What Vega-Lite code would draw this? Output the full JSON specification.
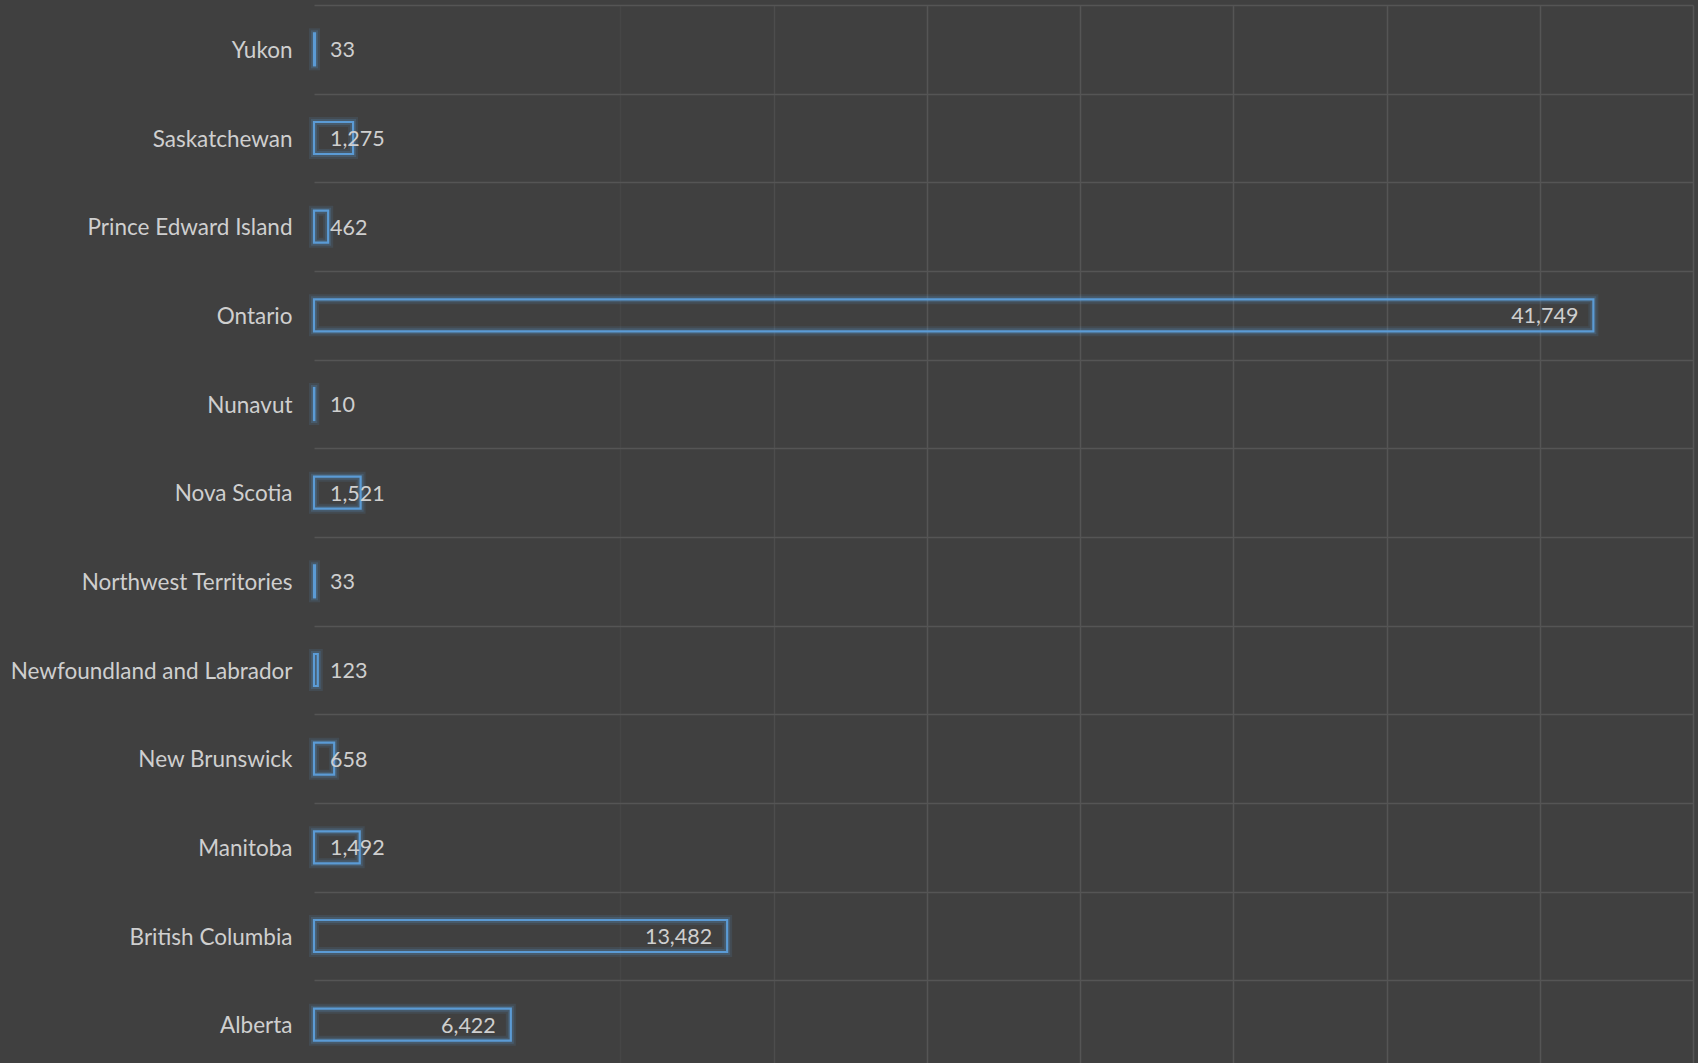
{
  "$schema": "https://vega.github.io/schema/vega-lite/v6.json",
  "autosize": {"type": "none"},
  "padding": {"left": 314, "top": 5, "right": 5, "bottom": 0},
  "width": 1379,
  "height": 1064,
  "background": "#404040",
  "config": {
    "view": {"stroke": null},
    "font": "Lato"
  },
  "data": {
    "values": [
      {"province": "Yukon", "value": 33},
      {"province": "Saskatchewan", "value": 1275},
      {"province": "Prince Edward Island", "value": 462},
      {"province": "Ontario", "value": 41749},
      {"province": "Nunavut", "value": 10},
      {"province": "Nova Scotia", "value": 1521},
      {"province": "Northwest Territories", "value": 33},
      {"province": "Newfoundland and Labrador", "value": 123},
      {"province": "New Brunswick", "value": 658},
      {"province": "Manitoba", "value": 1492},
      {"province": "British Columbia", "value": 13482},
      {"province": "Alberta", "value": 6422}
    ]
  },
  "encoding": {
    "y": {
      "field": "province",
      "type": "nominal",
      "sort": "descending",
      "scale": {"paddingInner": 0, "paddingOuter": 0},
      "axis": {
        "title": null,
        "ticks": false,
        "domain": false,
        "grid": true,
        "tickBand": "extent",
        "gridColor": "#555555",
        "gridWidth": 1.5,
        "labelFont": "Lato",
        "labelFontSize": 22.5,
        "labelColor": "#cfcfcf",
        "labelPadding": 22,
        "labelLimit": 0,
        "labelOffset": 1
      }
    },
    "x": {
      "field": "value",
      "type": "quantitative",
      "scale": {"domain": [0, 45000], "nice": false},
      "axis": {
        "title": null,
        "labels": false,
        "ticks": false,
        "domain": false,
        "grid": true,
        "values": [0, 5000, 10000, 15000, 20000, 25000, 30000, 35000, 40000, 45000],
        "gridColor": "#555555",
        "gridWidth": 1.5,
        "gridOpacity": {
          "condition": [
            {"test": "datum.value <= 5000", "value": 0.05},
            {"test": "datum.value <= 10000", "value": 0.3},
            {"test": "datum.value <= 15000", "value": 0.65}
          ],
          "value": 1
        }
      }
    }
  },
  "layer": [
    {
      "mark": {"type": "bar", "size": 32, "fill": null, "fillOpacity": 0, "stroke": "#5b9bd5", "strokeWidth": 10, "strokeOpacity": 0.12}
    },
    {
      "mark": {"type": "bar", "size": 32, "fill": null, "fillOpacity": 0, "stroke": "#5b9bd5", "strokeWidth": 6, "strokeOpacity": 0.2}
    },
    {
      "mark": {"type": "bar", "size": 32, "fill": null, "fillOpacity": 0, "stroke": "#5b9bd5", "strokeWidth": 2.2, "strokeOpacity": 1}
    },
    {
      "transform": [{"filter": "datum.value >= 5000"}],
      "mark": {"type": "text", "align": "right", "baseline": "middle", "dx": -15, "dy": 2, "fontSize": 21.5, "color": "#cfcfcf"},
      "encoding": {"text": {"field": "value", "type": "quantitative", "format": ","}}
    },
    {
      "transform": [{"filter": "datum.value < 5000"}],
      "mark": {"type": "text", "align": "left", "baseline": "middle", "dx": 16, "dy": 2, "fontSize": 21.5, "color": "#cfcfcf"},
      "encoding": {
        "x": {"datum": 0, "type": "quantitative"},
        "text": {"field": "value", "type": "quantitative", "format": ","}
      }
    }
  ]
}
